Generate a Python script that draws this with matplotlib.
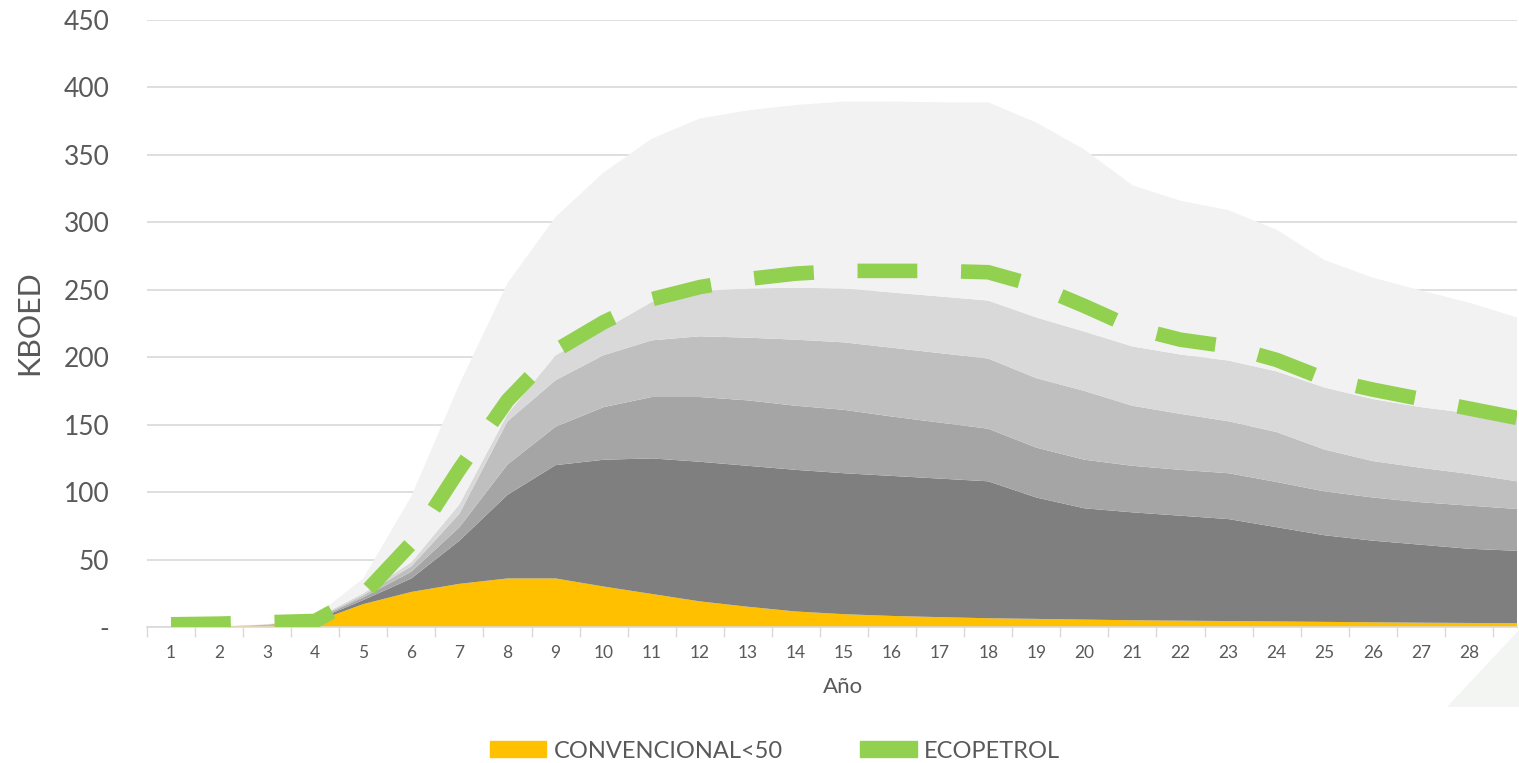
import matplotlib
matplotlib.use('Agg')
import matplotlib.pyplot as plt
from matplotlib.patches import Patch, Polygon

plt.rcParams['font.family'] = ['Lato', 'DejaVu Sans']

# --- datos (KBOED por año) ---
years = list(range(1, 30))
year_labels = [str(y) for y in range(1, 29)]   # el 29 no tiene etiqueta

convencional_50 = [0, 0.3, 1.5, 4, 17, 26, 32, 36, 36, 30, 24.5, 19, 15, 11.5, 9.5,
                   8.2, 7.3, 6.5, 6, 5.5, 5, 4.7, 4.4, 4.1, 3.8, 3.5, 3.2, 3, 2.8]
gris_1 = [0, 0, 0.1, 1, 3, 10, 32, 62, 84, 94, 100.5, 103.5, 104.5, 105, 104.5,
          103.8, 102.7, 101.5, 90, 82.5, 80, 77.8, 75.6, 69.9, 64.2, 60.5, 57.8, 55, 53.7]
gris_2 = [0, 0, 0.1, 0.5, 2, 5, 10, 22.5, 28.5, 39, 45.5, 48, 48.5, 47.5, 47,
          44, 41.5, 39, 37, 36, 34.5, 34, 34, 33.5, 32.5, 32, 31.5, 32, 31]
gris_3 = [0, 0, 0.1, 0.5, 1.5, 4, 10, 32, 34.5, 38.5, 42, 45, 46.5, 49, 50,
          51, 51.5, 52, 51.5, 51, 44.5, 41.5, 38.5, 37, 31, 27, 25.5, 23.5, 20.5]
gris_4 = [0, 0, 0.1, 0.5, 1.5, 3, 7, 5.5, 18.5, 19, 28.5, 33.5, 36.5, 38.5, 40,
          41, 42, 43, 45, 44, 44, 44, 45, 45, 46, 46, 45, 45, 47]
gris_5 = [0, 0.2, 0.1, 1.5, 11, 49, 89, 97, 102.5, 116.5, 121, 128, 132, 135.5, 138.5,
          141.5, 144, 147, 144.5, 135, 119.5, 114, 111.5, 105, 94.5, 90, 86.5, 82, 74.5]
ecopetrol = [2, 2.5, 3.5, 4.5, 24, 62, 117, 168, 205, 226, 243, 252, 258, 262, 264,
             264, 264, 263, 253, 238, 222, 213, 208, 198, 184, 176, 169, 162, 155]

layer_colors = ['#FFC000', '#7F7F7F', '#A5A5A5', '#BFBFBF', '#D9D9D9', '#F2F2F2']
text_color = '#595959'
grid_color = '#D9D9D9'

W, H = 1519, 763
fig = plt.figure(figsize=(W / 100, H / 100), dpi=100)
ax = fig.add_axes([147 / W, 136 / H, (1517 - 147) / W, (627 - 20) / H])

ax.stackplot(years, convencional_50, gris_1, gris_2, gris_3, gris_4, gris_5,
             colors=layer_colors, linewidth=0, zorder=2)
ax.plot(years, ecopetrol, color='#92D050', lw=10.5, dashes=(4.1, 3.0),
        dash_capstyle='butt', zorder=3)

ax.set_xlim(0.5, 29)
ax.set_ylim(0, 450)

# ejes y rejilla
ax.set_yticks(range(0, 451, 50))
ax.set_yticklabels(['-' if v == 0 else str(v) for v in range(0, 451, 50)])
ax.yaxis.grid(True, color=grid_color, lw=1.2)
ax.set_axisbelow(True)
ax.tick_params(axis='y', length=0, pad=27, labelsize=19, labelcolor=text_color)

ax.set_xticks(range(1, 29))
ax.set_xticklabels(year_labels)
ax.set_xticks([x + 0.5 for x in range(0, 29)], minor=True)
ax.tick_params(axis='x', which='major', length=0, pad=13, labelsize=12.5,
               labelcolor=text_color)
ax.tick_params(axis='x', which='minor', length=7, width=1, color=grid_color)

for side in ['top', 'right', 'left']:
    ax.spines[side].set_visible(False)
ax.spines['bottom'].set_color(grid_color)
ax.spines['bottom'].set_linewidth(1.2)

fig.text(29 / W, 1 - 323 / H, 'KBOED', rotation=90, ha='center', va='center',
         fontsize=22, color=text_color)
fig.text(843 / W, 1 - 687 / H, 'Año', ha='center', va='center',
         fontsize=16, color=text_color)

# leyenda (solo dos series)
handles = [Patch(facecolor='#FFC000', edgecolor='#FFC000'),
           Patch(facecolor='#92D050', edgecolor='#92D050')]
fig.legend(handles, ['CONVENCIONAL<50', 'ECOPETROL'], loc='center',
           bbox_to_anchor=(775 / W, 1 - 751 / H), ncol=2, frameon=False,
           fontsize=17, handlelength=2.4, handleheight=0.65, handletextpad=0.3,
           columnspacing=3.3, labelcolor=text_color)

# forma decorativa de la esquina
fig.patches.append(Polygon([(1447 / W, 1 - 707 / H), (1519 / W, 1 - 630 / H),
                            (1519 / W, 1 - 707 / H)], closed=True,
                           transform=fig.transFigure, facecolor='#F3F5F3',
                           edgecolor='none', zorder=0))

fig.savefig('out.png', dpi=100)
